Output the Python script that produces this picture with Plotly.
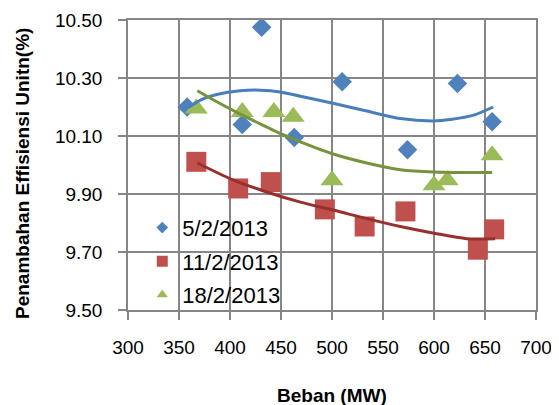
import plotly.graph_objects as go

# ---- data ----
series_names = ["5/2/2013", "11/2/2013", "18/2/2013"]

beban_5 = [358, 412, 431, 463, 510, 574, 623, 657]
eff_5 = [10.200, 10.140, 10.475, 10.095, 10.287, 10.053, 10.281, 10.149]

beban_11 = [367, 408, 440, 493, 532, 572, 643, 659]
eff_11 = [10.011, 9.919, 9.941, 9.847, 9.788, 9.840, 9.708, 9.778]

beban_18 = [367, 412, 443, 462, 500, 600, 613, 657]
eff_18 = [10.195, 10.183, 10.183, 10.166, 9.947, 9.930, 9.947, 10.034]

# trendlines
trend_x_5 = [359, 371, 387, 410, 430, 449, 469, 502, 534, 567, 600, 616, 639, 658]
trend_y_5 = [10.198, 10.224, 10.243, 10.256, 10.258, 10.252, 10.237, 10.212, 10.186,
             10.160, 10.152, 10.157, 10.172, 10.200]

trend_x_11 = [368, 404, 436, 469, 502, 534, 567, 600, 632, 660]
trend_y_11 = [10.007, 9.947, 9.907, 9.872, 9.844, 9.815, 9.788, 9.765, 9.746, 9.746]

trend_x_18 = [368, 387, 412, 436, 449, 469, 502, 534, 567, 600, 657]
trend_y_18 = [10.256, 10.218, 10.172, 10.131, 10.109, 10.080, 10.037, 10.007, 9.984,
              9.976, 9.974]

x_ticks = [300, 350, 400, 450, 500, 550, 600, 650, 700]
y_ticks = [9.50, 9.70, 9.90, 10.10, 10.30, 10.50]
y_tick_labels = ["9.50", "9.70", "9.90", "10.10", "10.30", "10.50"]

x_title = "Beban (MW)"
y_title = "Penambahan Effisiensi Unitn(%)"

# ---- styles ----
FONT = "Liberation Sans"
GRID = "#868686"
marker_colors = ["#4F81BD", "#C0504D", "#9BBB59"]
trend_colors = ["#4A7EBB", "#98302D", "#77933C"]
symbols = ["diamond", "square", "triangle-up"]
sizes = [15, 20, 20]
legend_sizes = [9, 11, 10]

fig = go.Figure()

pts = [(beban_5, eff_5), (beban_11, eff_11), (beban_18, eff_18)]
trends = [(trend_x_5, trend_y_5), (trend_x_11, trend_y_11), (trend_x_18, trend_y_18)]

for i, (xs, ys) in enumerate(pts):
    fig.add_trace(go.Scatter(
        x=xs, y=ys, mode="markers", name=series_names[i], showlegend=False,
        marker=dict(symbol=symbols[i], size=sizes[i], color=marker_colors[i],
                    line=dict(width=0)),
    ))

for i, (xs, ys) in enumerate(trends):
    fig.add_trace(go.Scatter(
        x=xs, y=ys, mode="lines", showlegend=False, hoverinfo="skip",
        line=dict(color=trend_colors[i], width=3, shape="spline", smoothing=0.8),
    ))

# legend entries
for i in range(3):
    fig.add_trace(go.Scatter(
        x=[None], y=[None], mode="markers", name=series_names[i],
        legendgroup="g%d" % i,
        marker=dict(symbol=symbols[i], size=legend_sizes[i], color=marker_colors[i],
                    line=dict(width=0)),
    ))

fig.update_layout(
    width=551, height=397,
    margin=dict(l=120, r=23, t=12, b=95, autoexpand=False),
    paper_bgcolor="white", plot_bgcolor="white",
    font=dict(family=FONT, size=19, color="#000000"),
    showlegend=True,
    legend=dict(x=0.035, y=0.356, xanchor="left", yanchor="top",
                bgcolor="rgba(0,0,0,0)", font=dict(size=22, family=FONT),
                tracegroupgap=2, itemwidth=30),
    xaxis=dict(range=[300, 700], tickvals=x_ticks, ticktext=[str(v) for v in x_ticks],
               showgrid=True, gridcolor=GRID, gridwidth=1.5, automargin=False,
               showline=True, linecolor=GRID, linewidth=1.5, mirror=True,
               ticks="outside", ticklen=8, tickcolor=GRID, tickwidth=1.5,
               ticklabelstandoff=11, zeroline=False,
               tickfont=dict(size=19, family=FONT)),
    yaxis=dict(range=[9.5, 10.5], tickvals=y_ticks, ticktext=y_tick_labels,
               showgrid=True, gridcolor=GRID, gridwidth=1.5, automargin=False,
               showline=True, linecolor=GRID, linewidth=1.5, mirror=True,
               ticks="outside", ticklen=8, tickcolor=GRID, tickwidth=1.5,
               ticklabelstandoff=12, zeroline=False,
               tickfont=dict(size=19, family=FONT)),
    annotations=[
        dict(text="<b>%s</b>" % x_title, xref="paper", yref="paper",
             x=(332 - 128) / 408, y=-(395 - 310) / 290, xanchor="center", yanchor="middle",
             showarrow=False, font=dict(size=19, family=FONT)),
        dict(text="<b>%s</b>" % y_title, xref="paper", yref="paper", textangle=-90,
             x=-(128 - 22) / 408, y=(310 - 174) / 290, xanchor="center", yanchor="middle",
             showarrow=False, font=dict(size=19, family=FONT)),
    ],
)

fig.write_html("out.html")
